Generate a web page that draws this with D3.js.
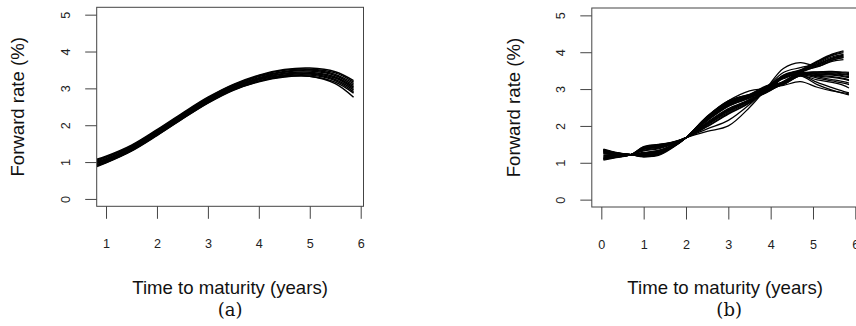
<!DOCTYPE html>
<html>
<head>
<meta charset="utf-8">
<script src="https://cdn.jsdelivr.net/npm/d3@7"></script>
<style>
  html, body { margin: 0; padding: 0; background: #fff; }
  svg { display: block; }
</style>
</head>
<body>
<svg id="chart" width="856" height="326"></svg>
<script>
// ---------- Data ----------
const yTicks = [0, 1, 2, 3, 4, 5];
const xTicksA = [1, 2, 3, 4, 5, 6];
const xTicksB = [0, 1, 2, 3, 4, 5, 6];
const xTitle = "Time to maturity (years)";
const yTitle = "Forward rate (%)";
const panelLabels = ["(a)", "(b)"];

// Panel (a): maturities (years) and forward-rate curves (%)
const maturitiesA = [0.82, 1.0, 1.5, 2.0, 2.5, 3.0, 3.5, 4.0, 4.5, 5.0, 5.5, 5.86];
const curvesA = [
  [1.08, 1.16, 1.46, 1.88, 2.33, 2.76, 3.11, 3.36, 3.51, 3.55, 3.45, 3.21],
  [1.06, 1.14, 1.44, 1.86, 2.31, 2.74, 3.09, 3.34, 3.49, 3.52, 3.42, 3.17],
  [1.03, 1.12, 1.42, 1.84, 2.29, 2.72, 3.07, 3.32, 3.46, 3.50, 3.38, 3.13],
  [1.01, 1.09, 1.40, 1.82, 2.27, 2.70, 3.05, 3.29, 3.44, 3.47, 3.35, 3.08],
  [0.98, 1.07, 1.38, 1.80, 2.25, 2.68, 3.03, 3.27, 3.41, 3.44, 3.31, 3.04],
  [0.96, 1.05, 1.36, 1.78, 2.23, 2.66, 3.01, 3.25, 3.39, 3.41, 3.28, 3.00],
  [0.93, 1.03, 1.34, 1.76, 2.21, 2.64, 2.99, 3.23, 3.36, 3.39, 3.24, 2.96],
  [0.91, 1.00, 1.32, 1.74, 2.19, 2.62, 2.97, 3.20, 3.34, 3.36, 3.21, 2.91],
  [0.88, 0.98, 1.30, 1.72, 2.17, 2.60, 2.95, 3.18, 3.31, 3.33, 3.17, 2.87],
  [0.90, 0.99, 1.31, 1.73, 2.18, 2.61, 2.96, 3.19, 3.32, 3.33, 3.13, 2.76]
];

// Panel (b): maturities (years) and forward-rate curves (%); null = curve ended
const maturitiesB = [0.05, 0.35, 0.7, 1.0, 1.35, 1.7, 2.0, 2.5, 3.0, 3.5, 3.9, 4.3, 4.7, 5.1, 5.45, 5.72, 5.85];
const curvesB = [
  [1.07, 1.14, 1.22, 1.44, 1.50, 1.57, 1.68, 1.98, 2.32, 2.62, 2.98, 3.38, 3.52, 3.76, 3.95, 4.04, null],
  [1.11, 1.16, 1.22, 1.41, 1.47, 1.55, 1.68, 2.02, 2.37, 2.65, 3.05, 3.36, 3.50, 3.73, 3.91, 3.99, null],
  [1.15, 1.18, 1.22, 1.37, 1.43, 1.54, 1.68, 2.05, 2.41, 2.68, 2.93, 3.33, 3.48, 3.70, 3.87, 3.94, null],
  [1.18, 1.19, 1.22, 1.34, 1.40, 1.52, 1.68, 2.08, 2.45, 2.70, 3.01, 3.30, 3.46, 3.66, 3.83, 3.90, null],
  [1.20, 1.20, 1.22, 1.32, 1.38, 1.51, 1.68, 2.10, 2.47, 2.72, 3.08, 3.28, 3.45, 3.63, 3.79, 3.85, null],
  [1.13, 1.17, 1.22, 1.38, 1.44, 1.54, 1.68, 2.04, 2.39, 2.67, 2.96, 3.35, 3.49, 3.60, 3.75, 3.80, null],
  [1.09, 1.15, 1.22, 1.43, 1.49, 1.56, 1.68, 1.99, 2.34, 2.63, 3.03, 3.37, 3.51, 3.66, 3.82, 3.88, null],
  [1.16, 1.18, 1.22, 1.36, 1.42, 1.53, 1.68, 2.06, 2.43, 2.69, 2.91, 3.31, 3.47, 3.74, 3.93, 4.02, null],
  [1.37, 1.28, 1.22, 1.16, 1.22, 1.43, 1.68, 2.26, 2.68, 2.86, 3.06, 3.12, 3.35, 3.12, 2.97, 2.88, 2.84],
  [1.34, 1.27, 1.22, 1.19, 1.25, 1.44, 1.68, 2.23, 2.64, 2.84, 2.94, 3.14, 3.37, 3.18, 3.04, 2.94, 2.90],
  [1.31, 1.25, 1.22, 1.22, 1.28, 1.46, 1.68, 2.20, 2.61, 2.81, 3.02, 3.16, 3.39, 3.40, 3.38, 3.34, 3.31],
  [1.29, 1.24, 1.22, 1.24, 1.30, 1.47, 1.68, 2.18, 2.58, 2.79, 2.90, 3.18, 3.41, 3.44, 3.44, 3.41, 3.39],
  [1.27, 1.23, 1.22, 1.26, 1.32, 1.48, 1.68, 2.16, 2.55, 2.78, 3.07, 3.19, 3.42, 3.47, 3.48, 3.46, 3.45],
  [1.24, 1.22, 1.22, 1.28, 1.34, 1.49, 1.68, 2.14, 2.53, 2.76, 2.97, 3.21, 3.44, 3.41, 3.40, 3.36, 3.34],
  [1.33, 1.26, 1.22, 1.20, 1.26, 1.45, 1.68, 2.22, 2.63, 2.82, 3.04, 3.15, 3.38, 3.37, 3.34, 3.29, 3.25],
  [1.30, 1.25, 1.22, 1.23, 1.29, 1.47, 1.68, 2.19, 2.59, 2.80, 2.92, 3.17, 3.40, 3.46, 3.46, 3.44, 3.42],
  [1.25, 1.22, 1.22, 1.27, 1.33, 1.49, 1.68, 2.15, 2.54, 2.76, 3.00, 3.20, 3.43, 3.35, 3.32, 3.27, 3.23],
  [1.35, 1.27, 1.22, 1.18, 1.24, 1.44, 1.68, 2.24, 2.65, 2.84, 3.09, 3.14, 3.37, 3.43, 3.42, 3.39, 3.37],
  [1.36, 1.27, 1.22, 1.17, 1.23, 1.44, 1.68, 2.25, 2.66, 2.85, 2.95, 3.13, 3.36, 3.25, 3.18, 3.10, 3.03],
  [1.32, 1.26, 1.22, 1.21, 1.27, 1.45, 1.68, 2.21, 2.62, 2.82, 2.99, 3.15, 3.38, 3.30, 3.22, 3.16, 3.12],
  [1.28, 1.24, 1.22, 1.25, 1.31, 1.47, 1.68, 2.17, 2.57, 2.78, 3.03, 3.19, 3.42, 3.33, 3.26, 3.20, 3.16],
  [1.10, 1.15, 1.22, 1.40, 1.48, 1.56, 1.68, 1.85, 2.00, 2.50, 3.02, 3.56, 3.72, 3.62, 3.78, 3.86, null],
  [1.12, 1.16, 1.22, 1.39, 1.46, 1.55, 1.68, 1.92, 2.15, 2.58, 3.02, 3.45, 3.58, 3.68, 3.84, 3.92, null],
  [1.35, 1.27, 1.22, 1.17, 1.20, 1.42, 1.68, 2.25, 2.68, 2.95, 3.02, 3.10, 3.20, 3.05, 2.95, 2.90, 2.87]
];

// ---------- Drawing ----------
const svg = d3.select("#chart");
svg.append("rect").attr("width", 856).attr("height", 326).attr("fill", "#fff");

const sansFont = "'Liberation Sans', Arial, Helvetica, sans-serif";
const serifFont = "'DejaVu Serif', 'Liberation Serif', serif";

const panels = [
  { id: "a", maturities: maturitiesA, curves: curvesA, xTicks: xTicksA,
    xDomain: [0.817, 6.055], xRange: [96.7, 363.5], yRange: [206.3, 7.3],
    label: panelLabels[0], stroke: 1.5 },
  { id: "b", maturities: maturitiesB, curves: curvesB, xTicks: xTicksB,
    xDomain: [-0.225, 6.075], xRange: [591.8, 858.5], yRange: [207.0, 8.0],
    label: panelLabels[1], stroke: 1.25 }
];

panels.forEach(p => {
  const x = d3.scaleLinear().domain(p.xDomain).range(p.xRange);
  const y = d3.scaleLinear().domain([-0.2, 5.2]).range(p.yRange);
  const g = svg.append("g");

  const left = p.xRange[0], right = p.xRange[1];
  const top = p.yRange[1], bottom = p.yRange[0];

  g.append("clipPath").attr("id", "clip-" + p.id)
    .append("rect").attr("x", left).attr("y", top)
    .attr("width", right - left).attr("height", bottom - top);

  // curves
  const line = d3.line()
    .defined(d => d[1] != null)
    .x(d => x(d[0]))
    .y(d => y(d[1]))
    .curve(d3.curveCatmullRom.alpha(0.5));

  g.append("g").attr("clip-path", "url(#clip-" + p.id + ")")
    .selectAll("path")
    .data(p.curves)
    .join("path")
    .attr("d", c => line(p.maturities.map((t, i) => [t, c[i]])))
    .attr("fill", "none")
    .attr("stroke", "#000")
    .attr("stroke-width", p.stroke)
    .attr("stroke-linejoin", "round");

  // box
  g.append("rect")
    .attr("x", left).attr("y", top)
    .attr("width", right - left).attr("height", bottom - top)
    .attr("fill", "none").attr("stroke", "#444").attr("stroke-width", 1);

  // y axis
  const yAxis = d3.axisLeft(y).tickValues(yTicks).tickSize(11.5).tickFormat(d3.format("d"));
  const ya = g.append("g").attr("transform", `translate(${left},0)`).call(yAxis);
  ya.select(".domain").remove();
  ya.selectAll(".tick line").attr("stroke", "#444");
  ya.selectAll(".tick text")
    .attr("x", null).attr("dy", null)
    .attr("transform", "translate(-26.7,0) rotate(-90)")
    .attr("text-anchor", "middle")
    .attr("fill", "#222")
    .style("font-family", sansFont).style("font-size", "12.6px");

  // x axis
  const xAxis = d3.axisBottom(x).tickValues(p.xTicks).tickSize(12.5).tickPadding(20.6).tickFormat(d3.format("d"));
  const xa = g.append("g").attr("transform", `translate(0,${bottom})`).call(xAxis);
  xa.select(".domain").remove();
  xa.selectAll(".tick line").attr("stroke", "#444");
  xa.selectAll(".tick text")
    .attr("fill", "#222")
    .style("font-family", sansFont).style("font-size", "12.6px");

  // titles
  const cx = (left + right) / 2;
  g.append("text")
    .attr("x", cx).attr("y", 294)
    .attr("text-anchor", "middle")
    .attr("fill", "#111")
    .style("font-family", sansFont).style("font-size", "18.6px")
    .text(xTitle);

  g.append("text")
    .attr("transform", `translate(${left - 72.3},${(top + bottom) / 2}) rotate(-90)`)
    .attr("text-anchor", "middle")
    .attr("fill", "#111")
    .style("font-family", sansFont).style("font-size", "18.6px")
    .text(yTitle);

  g.append("text")
    .attr("x", cx + (p.id === "b" ? 4 : 0)).attr("y", 316)
    .attr("text-anchor", "middle")
    .attr("fill", "#111")
    .style("font-family", serifFont).style("font-size", "18px")
    .text(p.label);
});
</script>
</body>
</html>
